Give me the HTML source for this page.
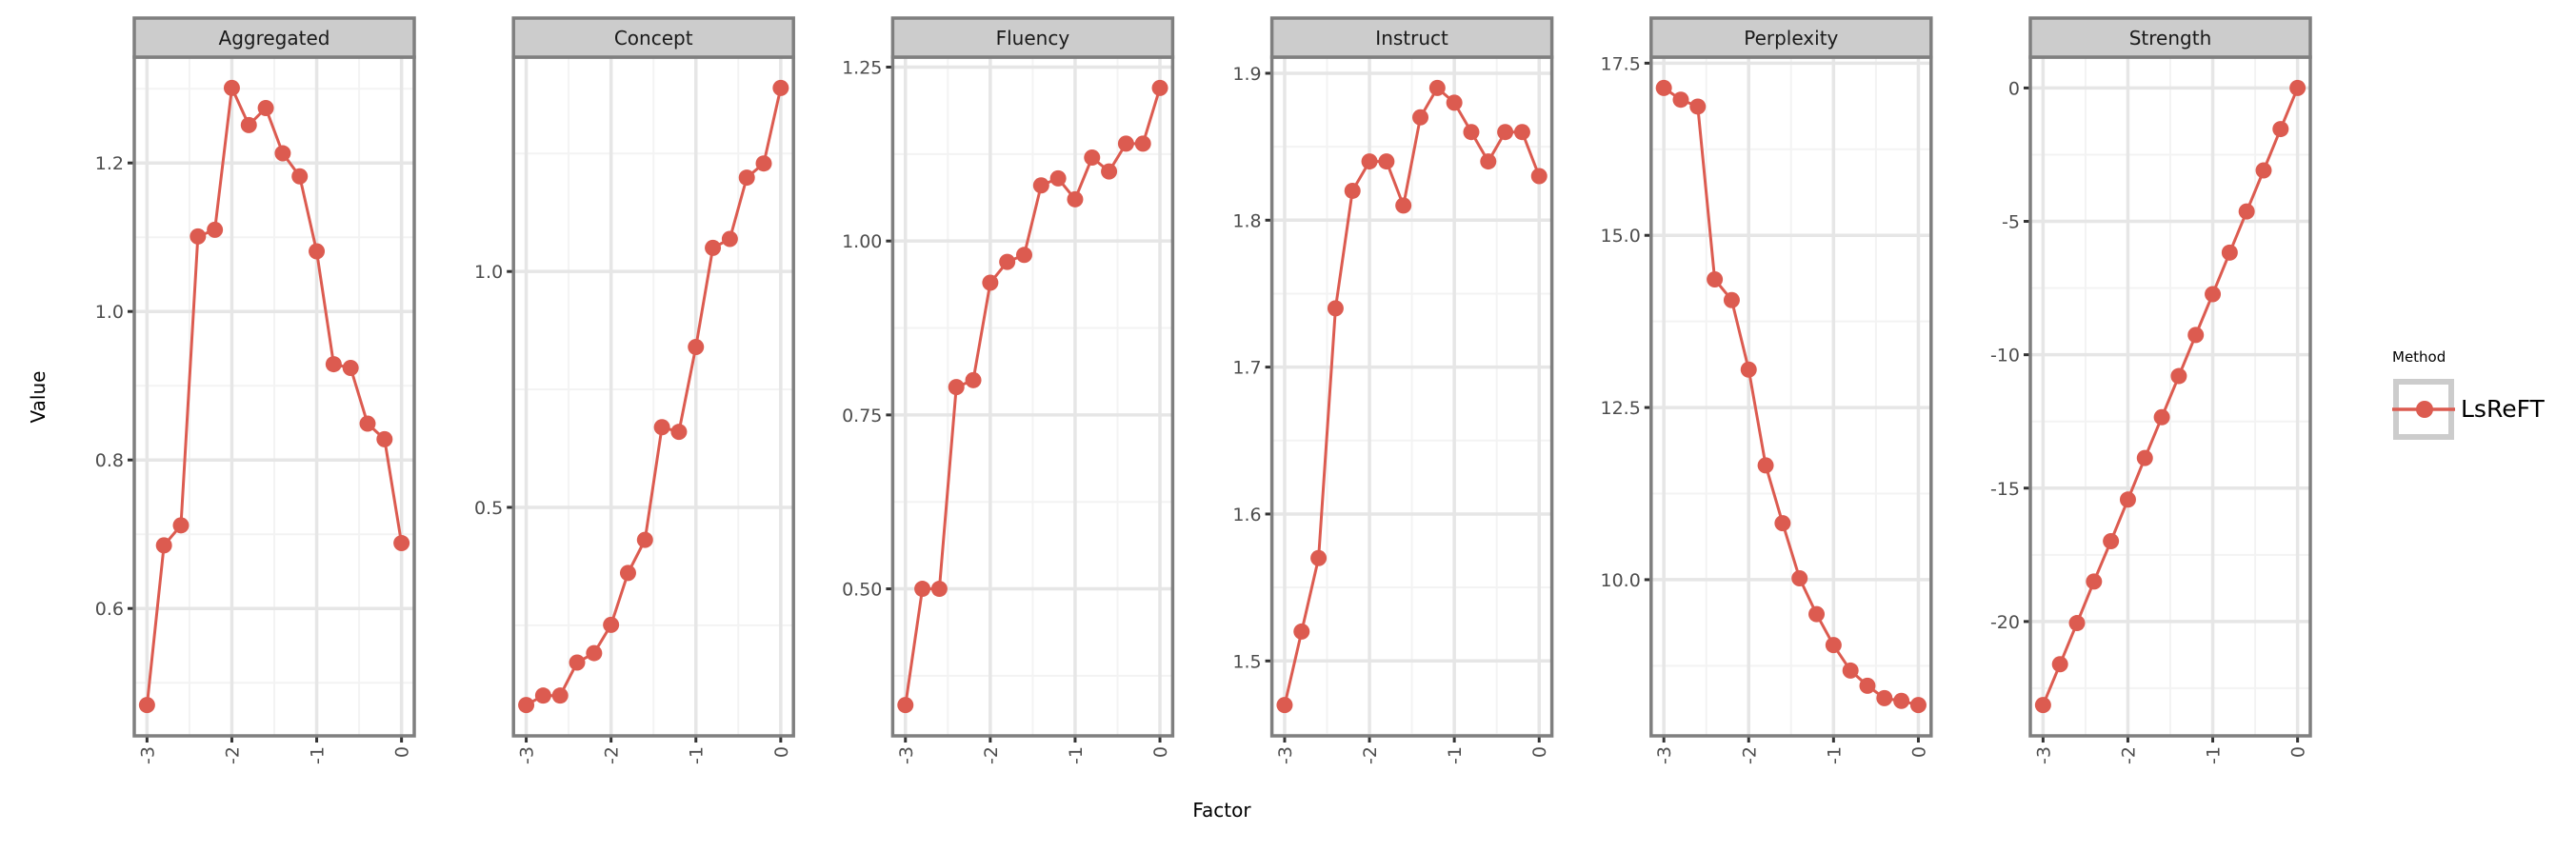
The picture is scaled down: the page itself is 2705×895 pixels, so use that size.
<!DOCTYPE html>
<html><head><meta charset="utf-8"><style>
html,body{margin:0;padding:0;background:#fff;}
svg{display:block;font-family:"DejaVu Sans","Liberation Sans",sans-serif;}
</style></head><body>
<svg id="chart" width="2705" height="895" viewBox="0 0 2705 895" xmlns="http://www.w3.org/2000/svg">
<text x="47" y="417" font-size="20" fill="#000" text-anchor="middle" transform="rotate(-90 47 417)">Value</text>
<text x="1283" y="858" font-size="20" fill="#000" text-anchor="middle">Factor</text>
<g>
<text x="2512" y="380" font-size="15" fill="#000">Method</text>
<rect x="2516" y="401" width="58" height="58" fill="#fff" stroke="#cccccc" stroke-width="6"/>
<line x1="2512" y1="430" x2="2578" y2="430" stroke="#dc5b50" stroke-width="3.5"/>
<circle cx="2546" cy="430" r="9" fill="#dc5b50"/>
<text x="2584" y="438" font-size="25" fill="#000">LsReFT</text>
</g>
</svg>
<script>
const xValues = [-3,-2.8,-2.6,-2.4,-2.2,-2,-1.8,-1.6,-1.4,-1.2,-1,-0.8,-0.6,-0.4,-0.2,0];
const panelNames = ["Aggregated","Concept","Fluency","Instruct","Perplexity","Strength"];
const aggregatedValues = [0.470,0.685,0.712,1.101,1.110,1.301,1.251,1.274,1.213,1.182,1.081,0.929,0.924,0.849,0.828,0.688];
const conceptValues = [0.081,0.101,0.101,0.171,0.191,0.251,0.361,0.431,0.670,0.660,0.840,1.050,1.069,1.199,1.229,1.389];
const fluencyValues = [0.333,0.50,0.50,0.79,0.80,0.94,0.97,0.98,1.08,1.09,1.06,1.12,1.10,1.14,1.14,1.22];
const instructValues = [1.47,1.52,1.57,1.74,1.82,1.84,1.84,1.81,1.87,1.89,1.88,1.86,1.84,1.86,1.86,1.83];
const perplexityValues = [17.14,16.97,16.87,14.36,14.06,13.05,11.66,10.82,10.02,9.50,9.05,8.68,8.46,8.28,8.24,8.18];
const strengthValues = [-23.13,-21.60,-20.06,-18.50,-16.99,-15.43,-13.87,-12.34,-10.80,-9.26,-7.73,-6.17,-4.63,-3.09,-1.54,0];
const aggregatedTicks = ["0.6","0.8","1.0","1.2"];
const conceptTicks = ["0.5","1.0"];
const fluencyTicks = ["0.50","0.75","1.00","1.25"];
const instructTicks = ["1.5","1.6","1.7","1.8","1.9"];
const perplexityTicks = ["10.0","12.5","15.0","17.5"];
const strengthTicks = ["-20","-15","-10","-5","0"];
const xTicks = ["-3","-2","-1","0"];

const NS = "http://www.w3.org/2000/svg";
const svg = document.getElementById("chart");
function mk(tag, attrs, parent){
  const e = document.createElementNS(NS, tag);
  for (const k in attrs) e.setAttribute(k, attrs[k]);
  parent.appendChild(e);
  return e;
}
const series = [aggregatedValues, conceptValues, fluencyValues, instructValues, perplexityValues, strengthValues];
const ticks = [aggregatedTicks, conceptTicks, fluencyTicks, instructTicks, perplexityTicks, strengthTicks];
const TOP = 60, BOT = 773, W = 294, STRIP_TOP = 19;
const COLOR = "#dc5b50";

panelNames.forEach((name, i) => {
  const left = 141 + i * 398.2;
  const vals = series[i];
  const g = mk("g", {}, svg);
  
  
  const xmin = Math.min(...xValues), xmax = Math.max(...xValues);
  const xr = xmax - xmin;
  const xs = v => left + (v - (xmin - 0.05*xr)) / (1.1*xr) * W;
  const ymin = Math.min(...vals), ymax = Math.max(...vals);
  const yr = ymax - ymin;
  const lo = ymin - 0.05*yr, hi = ymax + 0.05*yr;
  const ys = v => BOT - (v - lo) / (hi - lo) * (BOT - TOP);
  const tv = ticks[i].map(Number);
  const step = tv.length > 1 ? tv[1] - tv[0] : 0.5;
  for (let m = tv[0] - step/2; m <= hi; m += step) {
    if (m < lo) continue;
    mk("line", {x1:left, x2:left+W, y1:ys(m), y2:ys(m), stroke:"#f3f3f3", "stroke-width":2}, g);
  }
  xTicks.map(Number).forEach(t => {
    const m = t + 0.5;
    if (m <= xmax + 0.05*xr) mk("line", {x1:xs(m), x2:xs(m), y1:TOP, y2:BOT, stroke:"#f3f3f3", "stroke-width":2}, g);
  });
  ticks[i].forEach(t => {
    const y = ys(Number(t));
    mk("line", {x1:left, x2:left+W, y1:y, y2:y, stroke:"#e6e6e6", "stroke-width":3.5}, g);
    mk("line", {x1:left-7, x2:left, y1:y, y2:y, stroke:"#333", "stroke-width":3}, g);
    const tl = mk("text", {x:left-11, y:y+7, "font-size":19, fill:"#4d4d4d", "text-anchor":"end"}, g);
    
    
    tl.textContent = t;
  });
  xTicks.forEach(t => {
    const x = xs(Number(t));
    mk("line", {x1:x, x2:x, y1:TOP, y2:BOT, stroke:"#e6e6e6", "stroke-width":3.5}, g);
    mk("line", {x1:x, x2:x, y1:BOT, y2:BOT+7, stroke:"#333", "stroke-width":3}, g);
    const tl = mk("text", {x:0, y:0, "font-size":19, fill:"#4d4d4d", "text-anchor":"end",
      transform:"translate(" + (x+7) + "," + (BOT+11) + ") rotate(-90)"}, g);
    
    
    tl.textContent = t;
  });
  const pts = vals.map((v, k) => xs(xValues[k]).toFixed(1) + "," + ys(v).toFixed(1)).join(" ");
  const pl = mk("polyline", {points:pts, fill:"none", stroke:COLOR, "stroke-width":3}, g);
  
  
  vals.forEach((v, k) => {
    const c = mk("circle", {cx:xs(xValues[k]), cy:ys(v), r:8.5, fill:COLOR}, g);
    
    
  });
  const br = mk("rect", {x:left, y:TOP, width:W, height:BOT-TOP, fill:"none", stroke:"#7f7f7f", "stroke-width":3.5}, g);
  
  
  const st = mk("rect", {x:left, y:STRIP_TOP, width:W, height:TOP-STRIP_TOP, fill:"#cccccc", stroke:"#7f7f7f", "stroke-width":3.5}, g);
  
  
  const sl = mk("text", {x:left+W/2, y:STRIP_TOP+28, "font-size":20, fill:"#1a1a1a", "text-anchor":"middle"}, g);
  
  
  sl.textContent = name;
});
</script>
</body></html>
